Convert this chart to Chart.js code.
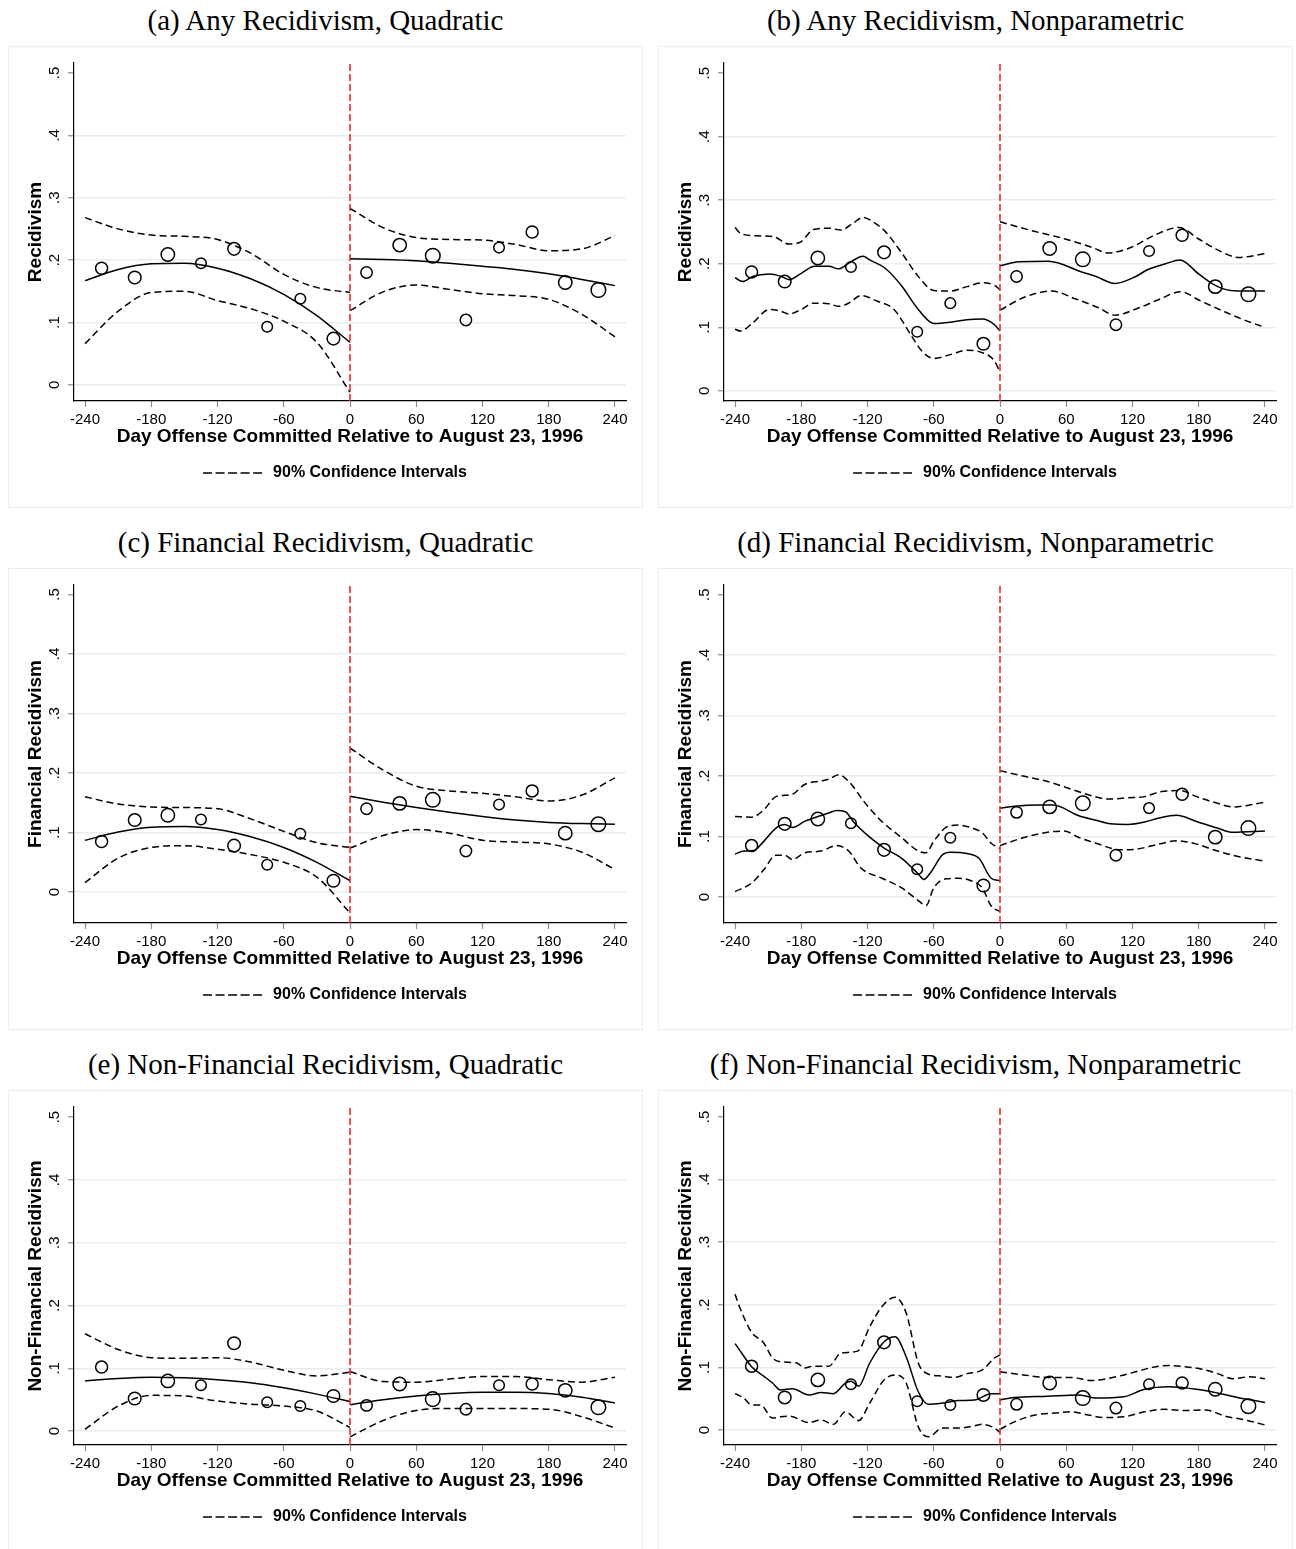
<!DOCTYPE html>
<html>
<head>
<meta charset="utf-8">
<title>Recidivism around August 23, 1996</title>
<script src="https://cdn.jsdelivr.net/npm/chart.js@4.4.1/dist/chart.umd.min.js"></script>
<style>
  body { margin: 0; width: 1296px; height: 1549px; overflow: hidden; background: #fff; position: relative; }
  .caption { position: absolute; width: 635px; height: 40px; line-height: 40px; text-align: center;
             font-family: 'Liberation Serif', 'Times New Roman', serif; font-size: 29px; color: #000; }
  .panel { position: absolute; width: 635px; height: 462px; border: 1px solid #e8eef0; box-sizing: border-box; }
  .panel canvas { position: absolute; left: -1px; top: -1px; }
</style>
</head>
<body>
<div class="caption" style="left:8px;top:0px">(a) Any Recidivism, Quadratic</div>
<div class="caption" style="left:658px;top:0px">(b) Any Recidivism, Nonparametric</div>
<div class="panel" style="left:8px;top:46px"><canvas id="anyQuad" width="635" height="462"></canvas></div>
<div class="panel" style="left:658px;top:46px"><canvas id="anyNp" width="635" height="462"></canvas></div>

<div class="caption" style="left:8px;top:522px">(c) Financial Recidivism, Quadratic</div>
<div class="caption" style="left:658px;top:522px">(d) Financial Recidivism, Nonparametric</div>
<div class="panel" style="left:8px;top:568px"><canvas id="finQuad" width="635" height="462"></canvas></div>
<div class="panel" style="left:658px;top:568px"><canvas id="finNp" width="635" height="462"></canvas></div>

<div class="caption" style="left:8px;top:1044px">(e) Non-Financial Recidivism, Quadratic</div>
<div class="caption" style="left:658px;top:1044px">(f) Non-Financial Recidivism, Nonparametric</div>
<div class="panel" style="left:8px;top:1090px"><canvas id="nonFinQuad" width="635" height="462"></canvas></div>
<div class="panel" style="left:658px;top:1090px"><canvas id="nonFinNp" width="635" height="462"></canvas></div>

<script>
// 30-day bins around the cutoff
const binDays = [-225, -195, -165, -135, -105, -75, -45, -15, 15, 45, 75, 105, 135, 165, 195, 225];
const anyRate = [0.187, 0.172, 0.209, 0.195, 0.218, 0.093, 0.138, 0.074, 0.180, 0.224, 0.207, 0.104, 0.220, 0.245, 0.164, 0.152];
const finRate = [0.085, 0.121, 0.129, 0.122, 0.078, 0.046, 0.098, 0.019, 0.140, 0.149, 0.155, 0.069, 0.147, 0.170, 0.099, 0.114];
const nonFinRate = [0.102, 0.052, 0.080, 0.073, 0.140, 0.046, 0.040, 0.056, 0.041, 0.075, 0.051, 0.035, 0.073, 0.075, 0.065, 0.038];

const dayTicks = [-240, -180, -120, -60, 0, 60, 120, 180, 240];
const rateTicks = [0, 0.1, 0.2, 0.3, 0.4, 0.5];
const rateTickLabels = ['0', '.1', '.2', '.3', '.4', '.5'];
const cutoffDay = 0;

// quadratic fits and 90% bands, every 30 days on each side
const quadDaysBefore = [-240, -210, -180, -150, -120, -90, -60, -30, 0];
const quadDaysAfter = [0, 30, 60, 90, 120, 150, 180, 210, 240];

const anyQuadBefore = [0.167, 0.185, 0.194, 0.195, 0.187, 0.170, 0.145, 0.111, 0.068];
const anyQuadAfter = [0.202, 0.201, 0.199, 0.195, 0.190, 0.185, 0.178, 0.169, 0.159];
const anyQuadHiBefore = [0.268, 0.250, 0.240, 0.238, 0.233, 0.211, 0.177, 0.156, 0.148];
const anyQuadHiAfter = [0.283, 0.252, 0.236, 0.233, 0.232, 0.225, 0.215, 0.218, 0.239];
const anyQuadLoBefore = [0.066, 0.118, 0.148, 0.150, 0.135, 0.122, 0.102, 0.068, -0.012];
const anyQuadLoAfter = [0.119, 0.149, 0.160, 0.153, 0.146, 0.143, 0.137, 0.113, 0.077];

const finQuadBefore = [0.087, 0.101, 0.109, 0.110, 0.105, 0.093, 0.075, 0.050, 0.019];
const finQuadAfter = [0.161, 0.151, 0.142, 0.134, 0.127, 0.121, 0.117, 0.115, 0.114];
const finQuadHiBefore = [0.160, 0.148, 0.143, 0.142, 0.140, 0.123, 0.102, 0.083, 0.075];
const finQuadHiAfter = [0.242, 0.205, 0.178, 0.170, 0.166, 0.160, 0.153, 0.163, 0.192];
const finQuadLoBefore = [0.016, 0.057, 0.075, 0.078, 0.072, 0.063, 0.050, 0.025, -0.035];
const finQuadLoAfter = [0.074, 0.095, 0.105, 0.099, 0.087, 0.084, 0.081, 0.067, 0.038];

const nonFinQuadBefore = [0.080, 0.084, 0.086, 0.085, 0.082, 0.077, 0.069, 0.059, 0.047];
const nonFinQuadAfter = [0.042, 0.050, 0.056, 0.060, 0.062, 0.062, 0.060, 0.054, 0.045];
const nonFinQuadHiBefore = [0.155, 0.130, 0.117, 0.116, 0.117, 0.110, 0.097, 0.088, 0.094];
const nonFinQuadHiAfter = [0.095, 0.079, 0.078, 0.083, 0.087, 0.087, 0.082, 0.078, 0.086];
const nonFinQuadLoBefore = [0.003, 0.040, 0.057, 0.056, 0.048, 0.043, 0.040, 0.032, 0.006];
const nonFinQuadLoAfter = [-0.009, 0.017, 0.033, 0.036, 0.036, 0.036, 0.035, 0.023, 0.005];

// local (nonparametric) fits, each read at its own days
const anyNpFitDaysBefore = [-240, -233, -224, -209, -198, -191, -180, -168, -155, -146, -137, -124, -118, -104, -89, -74, -60, -45, -30, -16, -5, 0];
const anyNpFitBefore = [0.178, 0.172, 0.180, 0.184, 0.180, 0.175, 0.185, 0.196, 0.196, 0.192, 0.201, 0.212, 0.206, 0.193, 0.165, 0.128, 0.106, 0.108, 0.112, 0.113, 0.104, 0.094];
const anyNpFitDaysAfter = [0, 17, 44, 74, 87, 104, 123, 134, 150, 163, 180, 195, 209, 225, 240];
const anyNpFitAfter = [0.197, 0.203, 0.204, 0.187, 0.180, 0.169, 0.180, 0.191, 0.200, 0.206, 0.184, 0.166, 0.158, 0.157, 0.157];
const anyNpHiDaysBefore = [-240, -235, -221, -206, -191, -180, -169, -155, -144, -133, -124, -115, -104, -89, -74, -60, -45, -30, -16, -5, 0];
const anyNpHiBefore = [0.257, 0.248, 0.244, 0.243, 0.231, 0.235, 0.254, 0.256, 0.253, 0.264, 0.273, 0.266, 0.251, 0.217, 0.180, 0.158, 0.157, 0.164, 0.170, 0.166, 0.159];
const anyNpHiDaysAfter = [0, 29, 59, 83, 98, 119, 140, 162, 180, 198, 216, 240];
const anyNpHiAfter = [0.266, 0.252, 0.239, 0.226, 0.217, 0.226, 0.245, 0.257, 0.239, 0.221, 0.210, 0.216];
const anyNpLoDaysBefore = [-240, -235, -224, -209, -198, -191, -180, -169, -155, -146, -137, -126, -111, -96, -80, -71, -60, -45, -30, -16, -5, 0];
const anyNpLoBefore = [0.097, 0.094, 0.107, 0.128, 0.125, 0.121, 0.128, 0.138, 0.137, 0.133, 0.138, 0.150, 0.141, 0.128, 0.086, 0.063, 0.051, 0.057, 0.064, 0.060, 0.047, 0.029];
const anyNpLoDaysAfter = [0, 23, 47, 68, 89, 104, 125, 143, 164, 180, 204, 225, 240];
const anyNpLoAfter = [0.127, 0.148, 0.157, 0.145, 0.131, 0.119, 0.130, 0.143, 0.156, 0.143, 0.124, 0.109, 0.100];

const finNpFitDaysBefore = [-240, -232, -223, -214, -203, -195, -188, -177, -165, -155, -148, -140, -133, -118, -105, -89, -74, -69, -63, -52, -45, -30, -19, -8, 0];
const finNpFitBefore = [0.071, 0.076, 0.077, 0.092, 0.114, 0.120, 0.115, 0.125, 0.133, 0.139, 0.143, 0.141, 0.125, 0.099, 0.081, 0.064, 0.038, 0.029, 0.040, 0.070, 0.074, 0.072, 0.064, 0.031, 0.027];
const finNpFitDaysAfter = [0, 13, 36, 48, 72, 87, 100, 116, 131, 145, 160, 178, 197, 211, 240];
const finNpFitAfter = [0.147, 0.150, 0.152, 0.152, 0.134, 0.127, 0.121, 0.120, 0.124, 0.131, 0.135, 0.125, 0.114, 0.107, 0.109];
const finNpHiDaysBefore = [-240, -225, -214, -203, -188, -177, -162, -155, -146, -137, -122, -107, -89, -74, -67, -60, -49, -38, -25, -16, -8, 0];
const finNpHiBefore = [0.133, 0.132, 0.144, 0.166, 0.170, 0.186, 0.192, 0.195, 0.202, 0.191, 0.155, 0.125, 0.098, 0.076, 0.073, 0.092, 0.115, 0.119, 0.114, 0.106, 0.089, 0.080];
const finNpHiDaysAfter = [0, 21, 43, 65, 80, 98, 116, 131, 145, 164, 178, 197, 211, 226, 240];
const finNpHiAfter = [0.209, 0.200, 0.191, 0.178, 0.169, 0.162, 0.164, 0.166, 0.174, 0.176, 0.166, 0.155, 0.149, 0.152, 0.157];
const finNpLoDaysBefore = [-240, -225, -214, -203, -195, -188, -177, -162, -148, -137, -126, -107, -89, -74, -67, -60, -49, -38, -25, -16, -8, 0];
const finNpLoBefore = [0.009, 0.023, 0.045, 0.069, 0.069, 0.062, 0.073, 0.076, 0.085, 0.076, 0.048, 0.031, 0.015, -0.006, -0.014, 0.015, 0.030, 0.031, 0.026, 0.015, -0.015, -0.024];
const finNpLoDaysAfter = [0, 21, 43, 58, 72, 87, 109, 123, 145, 160, 175, 197, 211, 240];
const finNpLoAfter = [0.085, 0.098, 0.107, 0.109, 0.098, 0.089, 0.078, 0.079, 0.088, 0.093, 0.089, 0.076, 0.069, 0.059];

const nonFinNpFitDaysBefore = [-240, -236, -225, -214, -206, -199, -188, -173, -162, -151, -140, -135, -128, -118, -105, -95, -85, -74, -65, -52, -38, -23, -8, 0];
const nonFinNpFitBefore = [0.138, 0.128, 0.101, 0.086, 0.075, 0.064, 0.066, 0.056, 0.060, 0.058, 0.075, 0.078, 0.070, 0.107, 0.141, 0.149, 0.117, 0.061, 0.041, 0.043, 0.047, 0.048, 0.058, 0.058];
const nonFinNpFitDaysAfter = [0, 13, 43, 72, 87, 112, 131, 153, 178, 197, 215, 240];
const nonFinNpFitAfter = [0.048, 0.052, 0.054, 0.056, 0.051, 0.053, 0.065, 0.069, 0.065, 0.059, 0.052, 0.044];
const nonFinNpHiDaysBefore = [-240, -236, -225, -214, -206, -199, -184, -177, -169, -155, -144, -129, -118, -107, -95, -85, -74, -67, -52, -41, -30, -16, -5, 0];
const nonFinNpHiBefore = [0.217, 0.197, 0.156, 0.139, 0.115, 0.109, 0.107, 0.099, 0.102, 0.102, 0.123, 0.126, 0.165, 0.197, 0.212, 0.187, 0.107, 0.091, 0.086, 0.084, 0.090, 0.096, 0.115, 0.120];
const nonFinNpHiDaysAfter = [0, 21, 43, 65, 83, 105, 123, 138, 153, 168, 183, 197, 211, 226, 240];
const nonFinNpHiAfter = [0.093, 0.088, 0.084, 0.084, 0.079, 0.085, 0.093, 0.100, 0.103, 0.101, 0.097, 0.090, 0.082, 0.085, 0.082];
const nonFinNpLoDaysBefore = [-240, -232, -225, -217, -206, -199, -191, -173, -162, -151, -140, -128, -118, -105, -95, -85, -74, -65, -52, -38, -27, -16, -5, 0];
const nonFinNpLoBefore = [0.058, 0.051, 0.040, 0.040, 0.019, 0.021, 0.022, 0.012, 0.016, 0.009, 0.029, 0.015, 0.043, 0.080, 0.088, 0.075, 0.005, -0.011, 0.003, 0.003, 0.005, 0.009, 0.003, -0.004];
const nonFinNpLoDaysAfter = [0, 13, 32, 50, 65, 80, 94, 112, 131, 149, 168, 186, 204, 222, 240];
const nonFinNpLoAfter = [0.001, 0.013, 0.024, 0.027, 0.029, 0.024, 0.020, 0.021, 0.029, 0.033, 0.031, 0.032, 0.022, 0.016, 0.008];

// marker size per bin (hollow circles scale with bin count)
const markerRadius = [6, 6.3, 6.7, 5.3, 6.3, 5.3, 5.3, 6.3, 5.7, 6.7, 7.3, 5.7, 5.3, 6, 6.7, 7.3];

Chart.defaults.font.family = "'Liberation Sans', Arial, Helvetica, sans-serif";
Chart.defaults.color = '#000';

const yMax = 0.516;
const pairs = (days, vals) => days.map((d, i) => ({ x: d, y: vals[i] }));

const panels = [
  { id: 'anyQuad', yTitle: 'Recidivism', yMin: -0.026, rate: anyRate,
    fit: [[quadDaysBefore, anyQuadBefore], [quadDaysAfter, anyQuadAfter]],
    hi: [[quadDaysBefore, anyQuadHiBefore], [quadDaysAfter, anyQuadHiAfter]],
    lo: [[quadDaysBefore, anyQuadLoBefore], [quadDaysAfter, anyQuadLoAfter]] },
  { id: 'anyNp', yTitle: 'Recidivism', yMin: -0.016, rate: anyRate,
    fit: [[anyNpFitDaysBefore, anyNpFitBefore], [anyNpFitDaysAfter, anyNpFitAfter]],
    hi: [[anyNpHiDaysBefore, anyNpHiBefore], [anyNpHiDaysAfter, anyNpHiAfter]],
    lo: [[anyNpLoDaysBefore, anyNpLoBefore], [anyNpLoDaysAfter, anyNpLoAfter]] },
  { id: 'finQuad', yTitle: 'Financial Recidivism', yMin: -0.052, rate: finRate,
    fit: [[quadDaysBefore, finQuadBefore], [quadDaysAfter, finQuadAfter]],
    hi: [[quadDaysBefore, finQuadHiBefore], [quadDaysAfter, finQuadHiAfter]],
    lo: [[quadDaysBefore, finQuadLoBefore], [quadDaysAfter, finQuadLoAfter]] },
  { id: 'finNp', yTitle: 'Financial Recidivism', yMin: -0.043, rate: finRate,
    fit: [[finNpFitDaysBefore, finNpFitBefore], [finNpFitDaysAfter, finNpFitAfter]],
    hi: [[finNpHiDaysBefore, finNpHiBefore], [finNpHiDaysAfter, finNpHiAfter]],
    lo: [[finNpLoDaysBefore, finNpLoBefore], [finNpLoDaysAfter, finNpLoAfter]] },
  { id: 'nonFinQuad', yTitle: 'Non-Financial Recidivism', yMin: -0.022, rate: nonFinRate,
    fit: [[quadDaysBefore, nonFinQuadBefore], [quadDaysAfter, nonFinQuadAfter]],
    hi: [[quadDaysBefore, nonFinQuadHiBefore], [quadDaysAfter, nonFinQuadHiAfter]],
    lo: [[quadDaysBefore, nonFinQuadLoBefore], [quadDaysAfter, nonFinQuadLoAfter]] },
  { id: 'nonFinNp', yTitle: 'Non-Financial Recidivism', yMin: -0.024, rate: nonFinRate,
    fit: [[nonFinNpFitDaysBefore, nonFinNpFitBefore], [nonFinNpFitDaysAfter, nonFinNpFitAfter]],
    hi: [[nonFinNpHiDaysBefore, nonFinNpHiBefore], [nonFinNpHiDaysAfter, nonFinNpHiAfter]],
    lo: [[nonFinNpLoDaysBefore, nonFinNpLoBefore], [nonFinNpLoDaysAfter, nonFinNpLoAfter]] }
];

// one smooth curve (solid fit or dashed band)
function curve(days, vals, dashed) {
  return {
    type: 'line',
    data: pairs(days, vals),
    borderColor: '#000',
    borderWidth: 1.5,
    borderDash: dashed ? [7, 4] : [],
    pointRadius: 0,
    cubicInterpolationMode: 'monotone',
    fill: false
  };
}

function drawPanel(p) {
  const datasets = [
    // cutoff line, drawn on top
    {
      type: 'line',
      data: [{ x: cutoffDay, y: p.yMin }, { x: cutoffDay, y: yMax }],
      borderColor: '#f0282d',
      borderWidth: 1.6,
      borderDash: [7, 3],
      pointRadius: 0
    },
    {
      type: 'scatter',
      data: pairs(binDays, p.rate),
      pointRadius: markerRadius,
      pointHoverRadius: markerRadius,
      pointBorderColor: '#000',
      pointBackgroundColor: 'rgba(0,0,0,0)',
      pointBorderWidth: 1.5
    }
  ];
  p.fit.forEach(([d, v]) => datasets.push(curve(d, v, false)));
  p.hi.forEach(([d, v]) => datasets.push(curve(d, v, true)));
  p.lo.forEach(([d, v]) => datasets.push(curve(d, v, true)));

  new Chart(document.getElementById(p.id), {
    type: 'scatter',
    data: { datasets: datasets },
    options: {
      responsive: false,
      animation: false,
      events: [],
      layout: { padding: { left: 36, top: 17, right: 17, bottom: 17 } },
      plugins: {
        tooltip: { enabled: false },
        legend: {
          position: 'bottom',
          labels: {
            usePointStyle: true,
            pointStyleWidth: 62,
            boxHeight: 16,
            padding: 10,
            color: '#000',
            font: { size: 16, weight: 'bold' },
            generateLabels: () => [{
              text: '90% Confidence Intervals',
              pointStyle: 'line',
              lineDash: [9, 3.5],
              lineWidth: 1.5,
              strokeStyle: '#000',
              fillStyle: '#000',
              fontColor: '#000',
              hidden: false,
              datasetIndex: 4
            }]
          }
        }
      },
      scales: {
        x: {
          type: 'linear',
          min: -250,
          max: 250,
          afterBuildTicks: s => { s.ticks = dayTicks.map(v => ({ value: v })); },
          afterFit: s => { s.height = 54; },
          grid: { drawOnChartArea: false, drawTicks: true, tickLength: 6, tickColor: '#8c8c8c', tickWidth: 1.2 },
          border: { color: '#000', width: 1.2 },
          ticks: { color: '#000', font: { size: 15 }, padding: 4, maxRotation: 0, autoSkip: false },
          title: {
            display: true,
            text: 'Day Offense Committed Relative to August 23, 1996',
            color: '#000',
            font: { size: 19, weight: 'bold' },
            padding: { top: 0, bottom: 6.6 }
          }
        },
        y: {
          type: 'linear',
          min: p.yMin,
          max: yMax,
          afterBuildTicks: s => { s.ticks = rateTicks.map(v => ({ value: v })); },
          afterFit: s => { s.width = 30; },
          grid: {
            color: c => (c.tick && c.tick.value === 0.5) ? 'rgba(0,0,0,0)' : '#e6eef1',
            lineWidth: 1.5,
            drawTicks: true,
            tickLength: 6,
            tickColor: '#8c8c8c',
            tickWidth: 1.2
          },
          border: { color: '#000', width: 1.2 },
          ticks: {
            color: '#000',
            font: { size: 15 },
            minRotation: 90,
            maxRotation: 90,
            crossAlign: 'center',
            padding: 6.75,
            callback: (v, i) => rateTickLabels[i]
          },
          title: {
            display: true,
            text: p.yTitle,
            color: '#000',
            font: { size: 19, weight: 'bold' },
            padding: { top: -19.4, bottom: 0 }
          }
        }
      }
    }
  });
}

panels.forEach(drawPanel);
</script>
</body>
</html>
